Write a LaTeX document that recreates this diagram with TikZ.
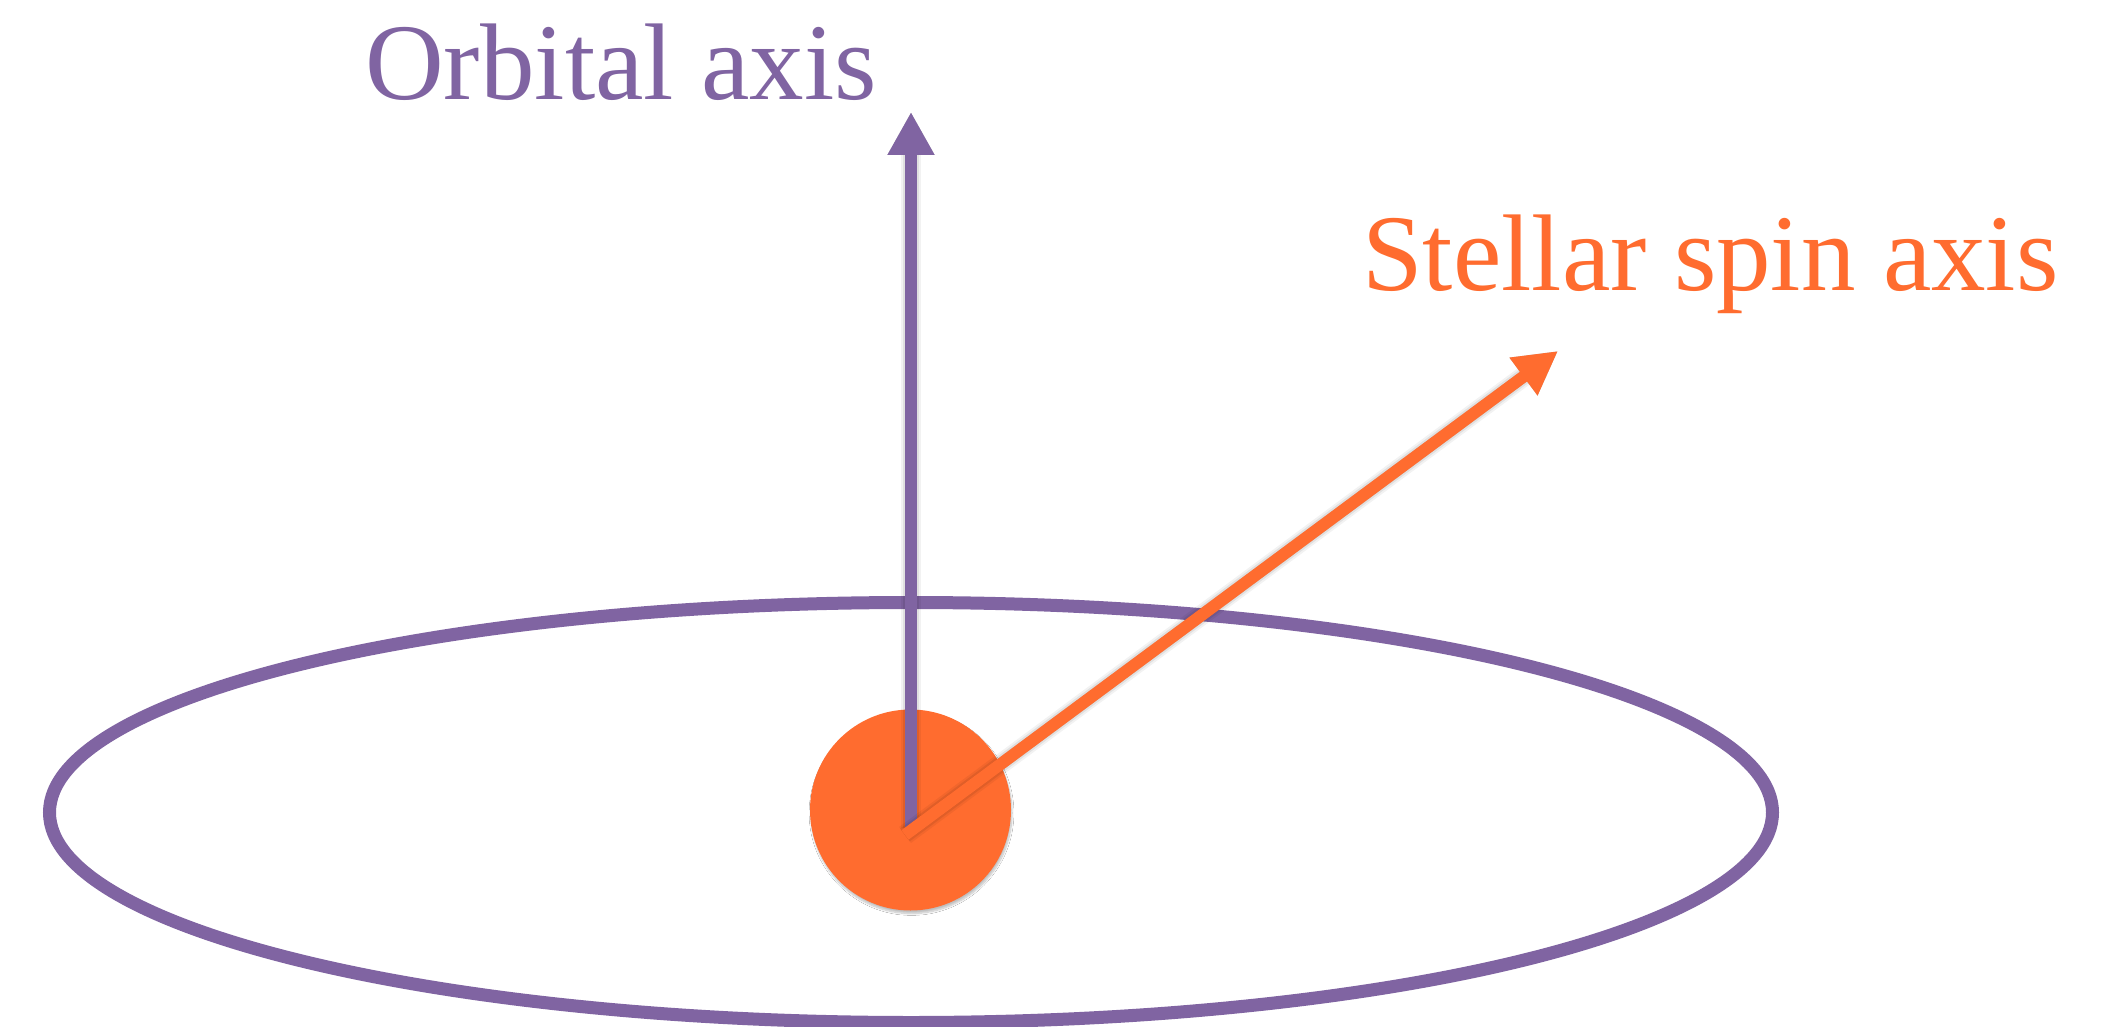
\documentclass[tikz,border=0pt]{standalone}
\usepackage{fontspec}
\setmainfont{Liberation Serif}
\usetikzlibrary{arrows.meta,shadows.blur}
\definecolor{orbpurple}{HTML}{8064A2}
\definecolor{starorange}{HTML}{FF6C2F}
\begin{document}
\begin{tikzpicture}[x=1pt,y=-1pt,
  axisarrow/.style={line width=12pt, -{Triangle[length=43pt,width=44pt]}},
  shadowarrow/.style={black, opacity=#1, yshift=-3pt, -{Triangle[length=43pt,width=44pt]}},
  axislabel/.style={inner sep=0pt, anchor=base west, font=\fontsize{109}{120}\selectfont}]
\useasboundingbox (0,0) rectangle (2117,1027);
\fill[white] (0,0) rectangle (2117,1027);
% orbit
\draw[orbpurple, line width=13pt] (911,812.5) ellipse [x radius=861.5pt, y radius=210pt];
% star
\node[circle, fill=starorange, inner sep=0pt, minimum size=201pt,
  blur shadow={shadow xshift=1pt, shadow yshift=-3pt, shadow blur steps=8, shadow opacity=25}] (star) at (910.5,810) {};
\coordinate (orbbase) at (911,828);
\coordinate (orbtip) at (911,112);
\coordinate (spinbase) at (905,835);
\coordinate (spintip) at (1558,351);
% shadows of the axes
\foreach \w/\o in {20/0.05, 16/0.07, 12/0.12}{
  \draw[shadowarrow=\o, line width=\w pt] (orbbase) -- (orbtip);
}
\draw[axisarrow, orbpurple] (orbbase) -- (orbtip);
\foreach \w/\o in {20/0.05, 16/0.07, 12/0.12}{
  \draw[shadowarrow=\o, line width=\w pt] (spinbase) -- (spintip);
}
\draw[axisarrow, starorange] (spinbase) -- (spintip);
% labels
\node[axislabel, text=orbpurple] (orblabel) at (365,100) {Orbital axis};
\node[axislabel, text=starorange] (spinlabel) at (1362,290) {Stellar spin axis};
\end{tikzpicture}
\end{document}
